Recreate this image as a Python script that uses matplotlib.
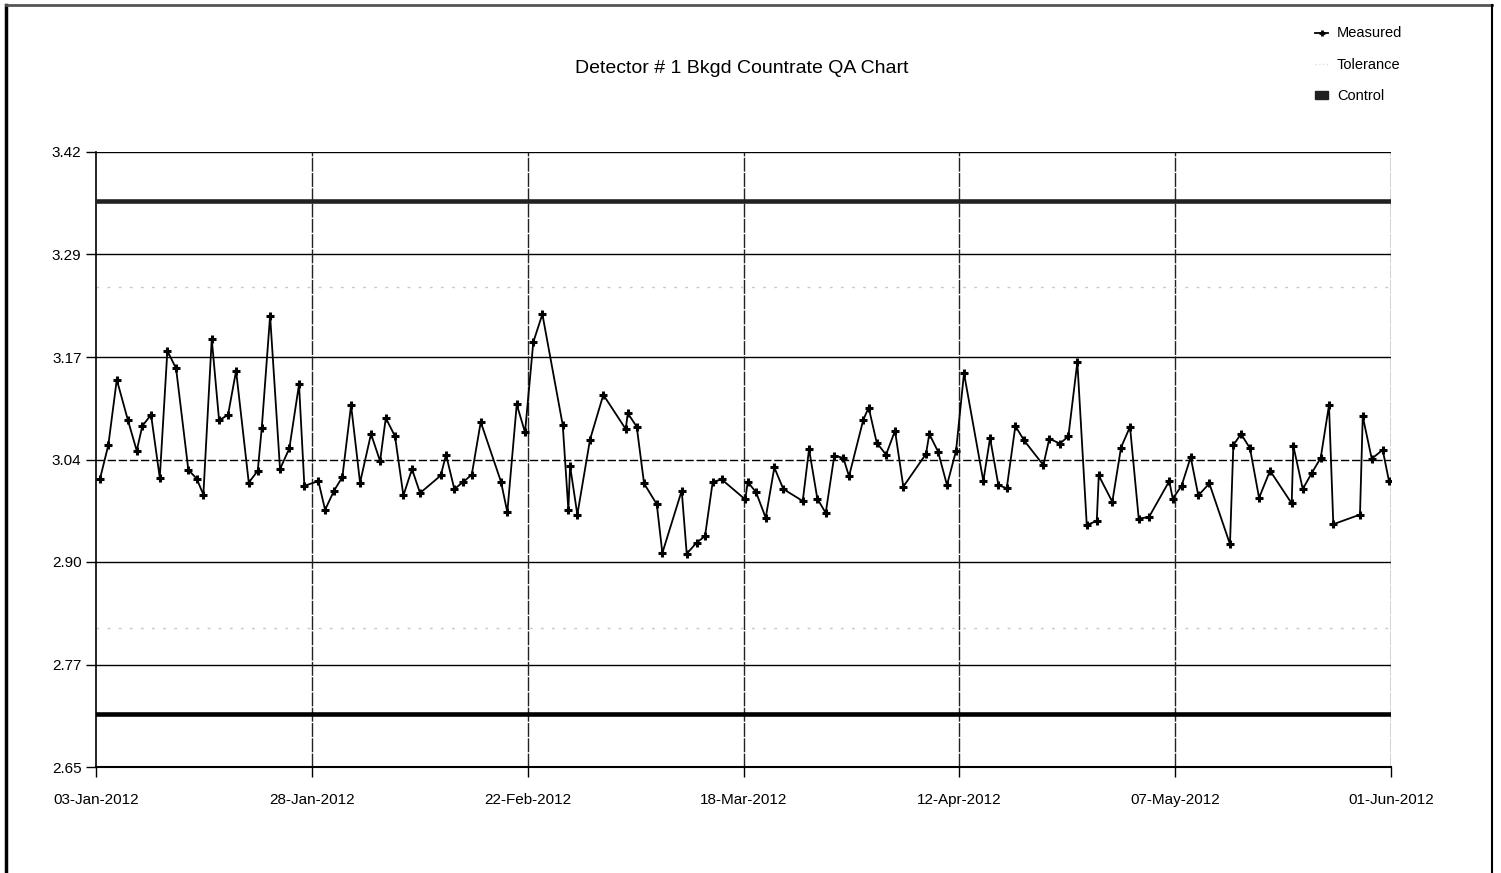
import numpy as np
import pandas as pd
import matplotlib
matplotlib.use("Agg")
import matplotlib.pyplot as plt
from matplotlib.lines import Line2D
from matplotlib.patches import Patch

plt.rcParams['font.family'] = ['Liberation Sans Narrow', 'Liberation Sans', 'DejaVu Sans']

START = pd.Timestamp('2012-01-03')
END = pd.Timestamp('2012-06-01')

days = [0.46, 1.42, 2.40, 3.67, 4.71, 5.36, 6.37, 7.38, 8.26, 9.27,
        10.69, 11.66, 12.43, 13.40, 14.25, 15.29, 16.22, 17.69, 18.73, 19.19,
        20.16, 21.31, 22.39, 23.51, 24.13, 25.75, 26.53, 27.57, 28.53, 29.54,
        30.58, 31.85, 32.90, 33.56, 34.63, 35.60, 36.60, 37.53, 39.93, 40.54,
        41.50, 42.55, 43.52, 44.56, 46.91, 47.64, 48.73, 49.69, 50.65, 51.70,
        54.06, 54.71, 54.91, 55.75, 57.22, 58.76, 61.36, 61.59, 62.63, 63.48,
        64.95, 65.60, 67.84, 68.42, 69.58, 70.54, 71.43, 72.48, 75.20, 75.49,
        76.45, 77.57, 78.57, 79.61, 81.86, 82.59, 83.55, 84.52, 85.52, 86.56,
        87.22, 88.88, 89.50, 90.43, 91.51, 92.55, 93.51, 96.14, 96.52, 97.53,
        98.57, 99.62, 100.54, 102.78, 103.56, 104.52, 105.49, 106.49, 107.49, 109.73,
        110.42, 111.66, 112.63, 113.67, 114.76, 115.92, 116.15, 117.72, 118.73, 119.77,
        120.78, 121.97, 124.32, 124.72, 125.74, 126.80, 127.68, 128.96, 131.35, 131.74,
        132.63, 133.67, 134.72, 135.99, 138.50, 138.69, 139.78, 140.82, 141.86, 142.82,
        143.32, 146.41, 146.73, 147.77, 149.04, 149.77]

measured = [3.011, 3.053, 3.135, 3.085, 3.046, 3.077, 3.091, 3.012, 3.171, 3.149,
            3.022, 3.011, 2.991, 3.186, 3.084, 3.091, 3.146, 3.006, 3.021, 3.074,
            3.215, 3.023, 3.049, 3.129, 3.002, 3.008, 2.972, 2.996, 3.013, 3.103,
            3.006, 3.067, 3.033, 3.087, 3.064, 2.990, 3.023, 2.993, 3.015, 3.041,
            2.998, 3.007, 3.016, 3.082, 3.007, 2.969, 3.104, 3.069, 3.182, 3.217,
            3.078, 2.972, 3.027, 2.966, 3.060, 3.116, 3.073, 3.093, 3.076, 3.005,
            2.979, 2.918, 2.996, 2.917, 2.931, 2.939, 3.007, 3.010, 2.985, 3.007,
            2.994, 2.962, 3.025, 2.998, 2.983, 3.048, 2.986, 2.968, 3.040, 3.037,
            3.014, 3.085, 3.100, 3.056, 3.041, 3.071, 3.001, 3.042, 3.067, 3.045,
            3.003, 3.046, 3.143, 3.008, 3.062, 3.003, 2.999, 3.077, 3.059, 3.028,
            3.061, 3.055, 3.064, 3.157, 2.953, 2.958, 3.015, 2.982, 3.050, 3.076,
            2.961, 2.963, 3.008, 2.986, 3.002, 3.038, 2.990, 3.005, 2.929, 3.053,
            3.067, 3.049, 2.987, 3.021, 2.980, 3.052, 2.998, 3.018, 3.037, 3.103,
            2.954, 2.966, 3.089, 3.036, 3.047, 3.008]

control = [2.716, 3.359]
tolerance = [2.824, 3.251]

y_ticks = [2.65, 2.7783, 2.9067, 3.035, 3.1633, 3.2917, 3.42]
y_labels = ['2.65', '2.77', '2.90', '3.04', '3.17', '3.29', '3.42']
x_tick_dates = ['2012-01-03', '2012-01-28', '2012-02-22', '2012-03-18',
                '2012-04-12', '2012-05-07', '2012-06-01']

dates = START + pd.to_timedelta(np.array(days), unit='D')

fig = plt.figure(figsize=(15.01, 8.73), dpi=100)
ax = fig.add_axes([0.064, 0.1214, 0.8627, 0.7045])

# grid (the 3.04 line is dashed in the original)
for i, yt in enumerate(y_ticks):
    if i == 3:
        ax.axhline(yt, color='black', lw=1.0, ls=(0, (6, 2)), zorder=1)
    else:
        ax.axhline(yt, color='black', lw=1.0, zorder=1)
xt = pd.to_datetime(x_tick_dates)
for d in xt[1:]:
    ax.axvline(d, color='#222222', lw=1.0, ls=(0, (10, 1)), zorder=1)

# tolerance / control limits
for t in tolerance:
    ax.axhline(t, color='#c8c8c8', lw=1.0, ls=(0, (2, 6)), zorder=2)
ax.axhline(control[1], color='#222222', lw=3.3, zorder=3)
ax.axhline(control[0], color='black', lw=3.3, zorder=3)

ax.plot(dates, measured, color='black', lw=1.3, marker='+', ms=5.5, mew=2.2, zorder=4)

ax.set_xlim(START, END)
ax.set_ylim(2.65, 3.42)
ax.set_yticks(y_ticks)
ax.set_yticklabels(y_labels)
ax.set_xticks(xt)
ax.set_xticklabels([d.strftime('%d-%b-%Y') for d in xt])
ax.tick_params(axis='both', labelsize=11, length=7, width=1, direction='out', colors='black')
ax.tick_params(axis='x', pad=12)
for s in ['top', 'right']:
    ax.spines[s].set_visible(False)
ax.spines['left'].set_linewidth(1.2)
ax.spines['bottom'].set_linewidth(1.5)

fig.text(0.494, 0.921, 'Detector # 1 Bkgd Countrate QA Chart', ha='center', va='center', fontsize=14)

handles = [Line2D([], [], color='black', lw=1.3, marker='+', ms=5, mew=2),
           Line2D([], [], color='#dddddd', lw=1, ls=':'),
           Patch(facecolor='#222222', edgecolor='#222222')]
fig.legend(handles, ['Measured', 'Tolerance', 'Control'], loc='upper right',
           bbox_to_anchor=(0.943, 0.985), frameon=False, fontsize=10.5,
           handlelength=0.9, handleheight=0.5, labelspacing=1.2, handletextpad=0.6)

# page border from the scan
fig.add_artist(Line2D([6 / 1501, 6 / 1501], [0, 1 - 5 / 873], color='black', lw=2.5, transform=fig.transFigure))
fig.add_artist(Line2D([6 / 1501, 1492 / 1501], [1 - 5 / 873, 1 - 5 / 873], color='#555555', lw=2, transform=fig.transFigure))
fig.add_artist(Line2D([1492 / 1501, 1492 / 1501], [0, 1 - 5 / 873], color='black', lw=1.5, transform=fig.transFigure))

fig.savefig('out.png', dpi=100)
